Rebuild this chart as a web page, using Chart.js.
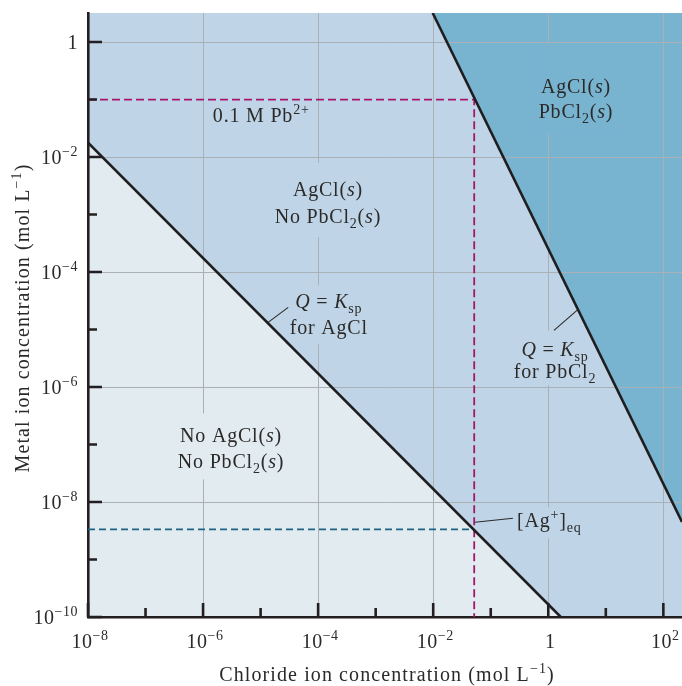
<!DOCTYPE html>
<html>
<head>
<meta charset="utf-8">
<script src="https://cdn.jsdelivr.net/npm/chart.js@4.4.0/dist/chart.umd.min.js"></script>
<style>
  html, body { margin: 0; padding: 0; background: #fff; }
  canvas { display: block; }
</style>
</head>
<body>
<canvas id="solubility" width="682" height="686"></canvas>
<script>
// axis ranges, mol/L
var chlorideMin = 1e-8, chlorideMax = 211;
var metalMin = 1e-10, metalMax = 3.2;

// decades: gridlines + labels on even ones, short ticks on odd ones
var chlorideTickExps = [-8, -6, -4, -2, 0, 2];
var chlorideMinorExps = [-7, -5, -3, -1, 1];
var metalTickExps = [-10, -8, -6, -4, -2, 0];
var metalMinorExps = [-9, -7, -5, -3, -1];

// Q = Ksp boundary lines (end points)
var agclChloride = [1e-8, 1.65];
var agclMetal = [1.78e-2, 1e-10];
var pbcl2Chloride = [9.8e-3, 211];
var pbcl2Metal = [3.2, 4.5e-9];

// the 0.1 M Pb2+ example
var leadConc = 0.1;
var chlorideAtPbcl2 = 0.0516;
var silverEq = 3.35e-9;

var INK = '#2b2a29';
var LIGHT = '#e1ebf0', MID = '#bfd5e7', DARK = '#78b4d0';
var FONT = "'Liberation Serif', 'Times New Roman', serif";

function toPoints(xs, ys) {
    return xs.map(function (x, i) { return { x: x, y: ys[i] }; });
}

// text pieces: [text, style] with style '', 'i', 'sub', 'sup'
function runFont(style) {
    if (style === 'i') return 'italic 20px ' + FONT;
    if (style === 'sub' || style === 'sup') return '14px ' + FONT;
    return '20px ' + FONT;
}
function runsWidth(ctx, runs) {
    var w = 0;
    runs.forEach(function (r) { ctx.font = runFont(r[1]); w += ctx.measureText(r[0]).width; });
    return w;
}
function drawRuns(ctx, runs, x, y, align) {
    var w = runsWidth(ctx, runs);
    var cx = align === 'center' ? x - w / 2 : (align === 'right' ? x - w : x);
    ctx.textAlign = 'left';
    ctx.textBaseline = 'alphabetic';
    runs.forEach(function (r) {
        ctx.font = runFont(r[1]);
        var dy = r[1] === 'sub' ? 5 : (r[1] === 'sup' ? -8 : 0);
        ctx.fillText(r[0], cx, y + dy);
        cx += ctx.measureText(r[0]).width;
    });
    return w;
}

// annotations, placed in log10 data coordinates
var notes = [
    { lines: [[['0.1 M Pb', ''], ['2+', 'sup']]], at: [-5.83, -1.391], align: 'left' },
    { lines: [[['AgCl(', ''], ['s', 'i'], [')', '']],
              [['No PbCl', ''], ['2', 'sub'], ['(', ''], ['s', 'i'], [')', '']]],
      at: [-3.83, -2.678], gap: 27, box: [33, 14], fill: MID },
    { lines: [[['Q', 'i'], [' = ', ''], ['K', 'i'], ['sp', 'sub']],
              [['for AgCl', '']]],
      at: [-3.814, -4.631], gap: 26, box: [23, 10], fill: MID,
      leader: [[-4.87, -4.875], [-4.52, -4.614]] },
    { lines: [[['AgCl(', ''], ['s', 'i'], [')', '']],
              [['PbCl', ''], ['2', 'sub'], ['(', ''], ['s', 'i'], [')', '']]],
      at: [0.481, -0.892], gap: 25, box: [49, 15], fill: DARK },
    { lines: [[['Q', 'i'], [' = ', ''], ['K', 'i'], ['sp', 'sub']],
              [['for PbCl', ''], ['2', 'sub']]],
      at: [0.117, -5.466], gap: 22, box: [26, 7], boxWidth: 56, fill: MID,
      leader: [[0.099, -5.014], [0.499, -4.667]] },
    { lines: [[['No AgCl(', ''], ['s', 'i'], [')', '']],
              [['No PbCl', ''], ['2', 'sub'], ['(', ''], ['s', 'i'], [')', '']]],
      at: [-5.514, -6.962], gap: 26, box: [29, 11], fill: LIGHT },
    { lines: [[['[Ag', ''], ['+', 'sup'], [']', ''], ['eq', 'sub']]],
      at: [-0.544, -8.440], align: 'left', box: [20, 11], fill: MID,
      leader: [[-1.275, -8.353], [-0.614, -8.283]] }
];

var notesPlugin = {
    id: 'notes',
    beforeDatasetsDraw: function (chart) {
        var ctx = chart.ctx, xs = chart.scales.x, ys = chart.scales.y;
        ctx.save();
        ctx.letterSpacing = '0.8px';
        notes.forEach(function (n) {
            var px = xs.getPixelForValue(Math.pow(10, n.at[0]));
            var py = ys.getPixelForValue(Math.pow(10, n.at[1]));
            var align = n.align || 'center';
            var gap = n.gap || 0;
            if (n.box) {
                var w = n.boxWidth || Math.max.apply(null, n.lines.map(function (l) { return runsWidth(ctx, l); })) + 8;
                var left = align === 'center' ? px - w / 2 : px - 4;
                ctx.fillStyle = n.fill;
                ctx.fillRect(left, py - n.box[0], w, n.box[0] + gap * (n.lines.length - 1) + n.box[1]);
            }
            if (n.leader) {
                ctx.strokeStyle = INK;
                ctx.lineWidth = 1.1;
                ctx.beginPath();
                ctx.moveTo(xs.getPixelForValue(Math.pow(10, n.leader[0][0])), ys.getPixelForValue(Math.pow(10, n.leader[0][1])));
                ctx.lineTo(xs.getPixelForValue(Math.pow(10, n.leader[1][0])), ys.getPixelForValue(Math.pow(10, n.leader[1][1])));
                ctx.stroke();
            }
            ctx.fillStyle = INK;
            n.lines.forEach(function (l, i) { drawRuns(ctx, l, px, py + i * gap, align); });
        });
        ctx.restore();
    },
    afterDraw: function (chart) {
        var ctx = chart.ctx, xs = chart.scales.x, ys = chart.scales.y, a = chart.chartArea;
        ctx.save();
        ctx.strokeStyle = '#231f20';
        ctx.lineWidth = 2.6;
        ctx.beginPath();
        chlorideTickExps.concat(chlorideMinorExps).forEach(function (e) {
            var x = xs.getPixelForValue(Math.pow(10, e));
            var len = chlorideTickExps.indexOf(e) >= 0 ? 14 : 9;
            ctx.moveTo(x, a.bottom); ctx.lineTo(x, a.bottom - len);
        });
        metalTickExps.concat(metalMinorExps).forEach(function (e) {
            var y = ys.getPixelForValue(Math.pow(10, e));
            var len = metalTickExps.indexOf(e) >= 0 ? 14 : 9;
            ctx.moveTo(a.left, y); ctx.lineTo(a.left + len, y);
        });
        ctx.stroke();

        ctx.fillStyle = INK;
        ctx.letterSpacing = '0.5px';
        function tickRuns(e) {
            if (e === 0) return [['1', '']];
            return [['10', ''], [(e < 0 ? '\u2212' : '') + Math.abs(e), 'sup']];
        }
        chlorideTickExps.forEach(function (e) {
            drawRuns(ctx, tickRuns(e), xs.getPixelForValue(Math.pow(10, e)) + 2, a.bottom + 31, 'center');
        });
        metalTickExps.forEach(function (e) {
            drawRuns(ctx, tickRuns(e), a.left - 10, ys.getPixelForValue(Math.pow(10, e)) + 7, 'right');
        });

        ctx.letterSpacing = '1.1px';
        drawRuns(ctx, [['Chloride ion concentration (mol L', ''], ['\u22121', 'sup'], [')', '']],
            (a.left + a.right) / 2 + 2, 681, 'center');
        ctx.translate(29, (a.top + a.bottom) / 2 + 3);
        ctx.rotate(-Math.PI / 2);
        drawRuns(ctx, [['Metal ion concentration (mol L', ''], ['\u22121', 'sup'], [')', '']], 0, 0, 'center');
        ctx.restore();
    }
};

var ctx = document.getElementById('solubility').getContext('2d');
var chart = new Chart(ctx, {
    type: 'line',
    data: {
        datasets: [
            {
                label: 'Q = Ksp for PbCl2',
                data: toPoints(pbcl2Chloride, pbcl2Metal),
                borderColor: '#1f1d1e', borderWidth: 2.6, pointRadius: 0,
                fill: 'end', backgroundColor: DARK
            },
            {
                label: 'Q = Ksp for AgCl',
                data: toPoints(agclChloride, agclMetal),
                borderColor: '#1f1d1e', borderWidth: 2.6, pointRadius: 0,
                fill: 'start', backgroundColor: LIGHT
            },
            {
                label: '0.1 M Pb2+',
                data: toPoints([chlorideMin, chlorideAtPbcl2, chlorideAtPbcl2], [leadConc, leadConc, metalMin]),
                borderColor: '#a5166b', borderWidth: 1.8, borderDash: [8, 4], pointRadius: 0, fill: false
            },
            {
                label: '[Ag+]eq',
                data: toPoints([chlorideMin, chlorideAtPbcl2], [silverEq, silverEq]),
                borderColor: '#1f6281', borderWidth: 1.8, borderDash: [7, 4], pointRadius: 0, fill: false
            },
            {
                label: 'AgCl(s), no PbCl2(s)',
                data: toPoints([chlorideMin, chlorideMax], [metalMax, metalMax]),
                borderWidth: 0, pointRadius: 0, fill: 'start', backgroundColor: MID
            }
        ]
    },
    options: {
        responsive: false,
        animation: false,
        events: [],
        devicePixelRatio: 1,
        layout: { padding: { top: 13, left: 0, right: 0, bottom: 0 } },
        elements: { line: { tension: 0 } },
        plugins: {
            legend: { display: false },
            tooltip: { enabled: false },
            filler: { drawTime: 'beforeDraw' }
        },
        scales: {
            x: {
                type: 'logarithmic', min: chlorideMin, max: chlorideMax,
                afterBuildTicks: function (s) {
                    s.ticks = chlorideTickExps.map(function (e) { return { value: Math.pow(10, e) }; });
                },
                afterFit: function (s) { s.height = 69; },
                ticks: { display: false },
                grid: { color: '#a9b0b6', lineWidth: 1, drawTicks: false },
                border: { color: '#231f20', width: 2.6 }
            },
            y: {
                type: 'logarithmic', min: metalMin, max: metalMax,
                afterBuildTicks: function (s) {
                    s.ticks = metalTickExps.map(function (e) { return { value: Math.pow(10, e) }; });
                },
                afterFit: function (s) { s.width = 88; },
                ticks: { display: false },
                grid: { color: '#a9b0b6', lineWidth: 1, drawTicks: false },
                border: { color: '#231f20', width: 2.6 }
            }
        }
    },
    plugins: [notesPlugin]
});
</script>
</body>
</html>
